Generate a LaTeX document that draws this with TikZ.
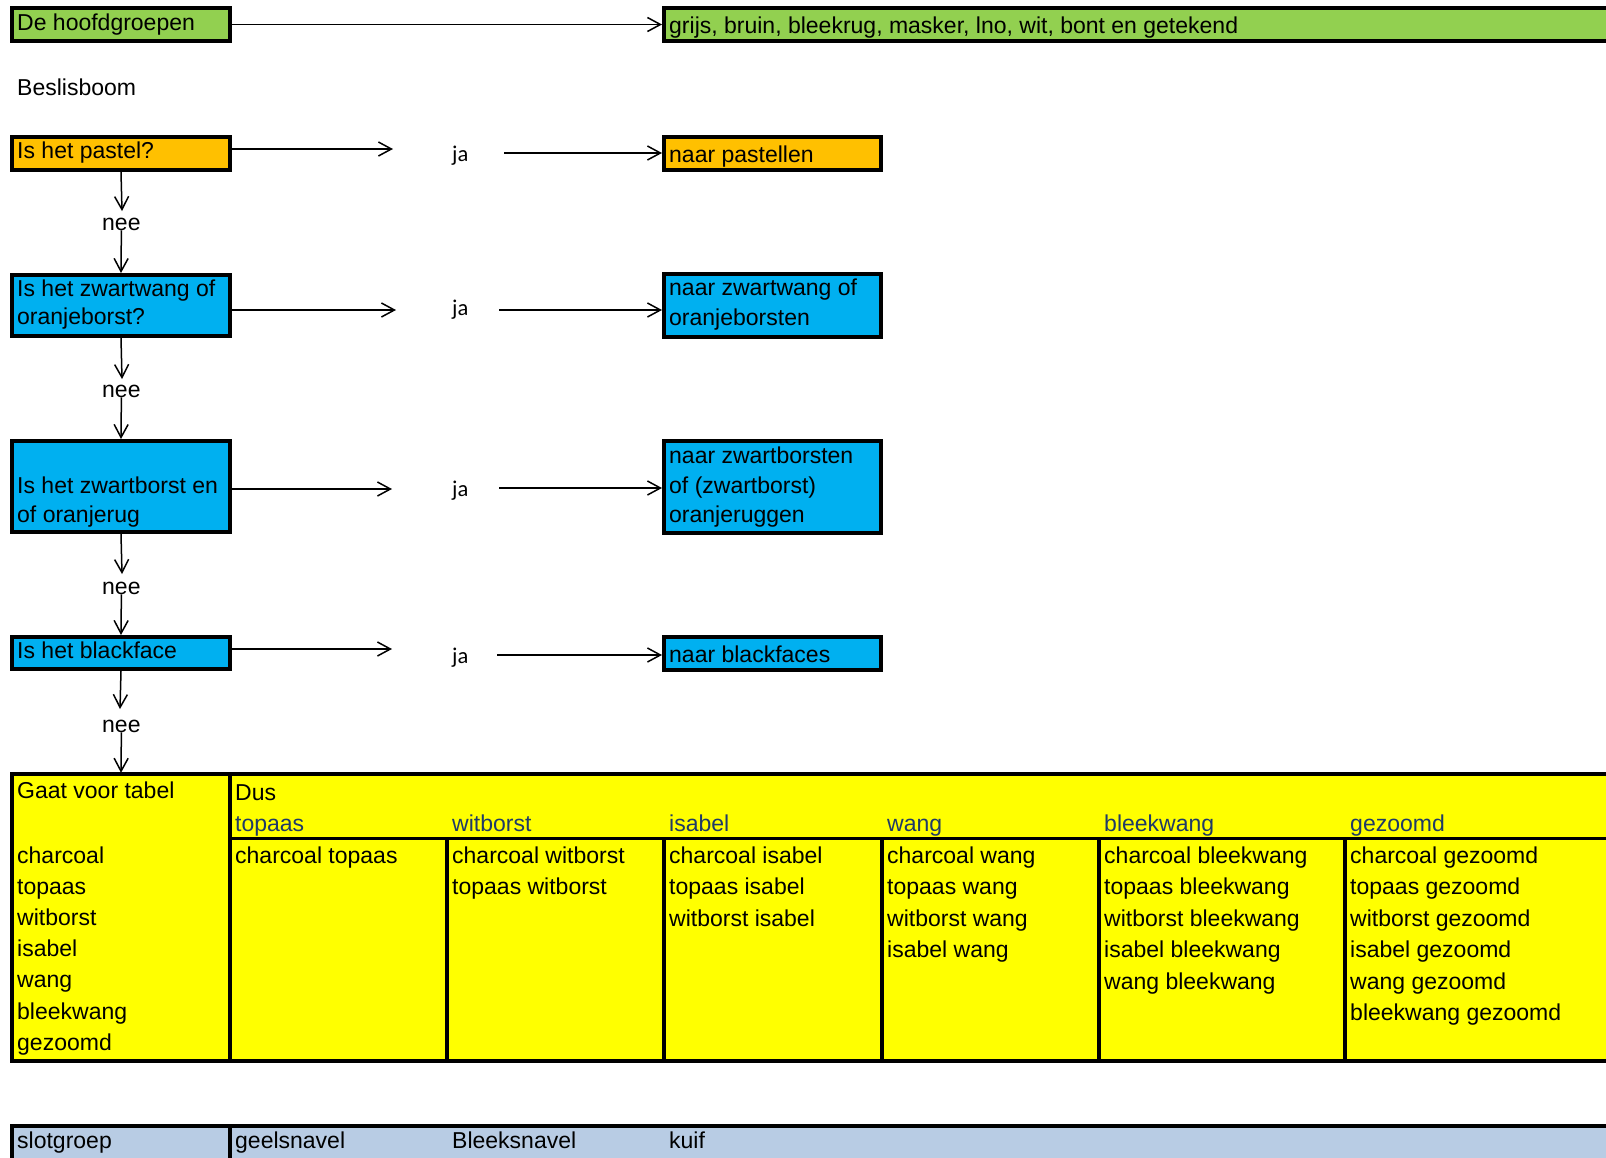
\documentclass[tikz,border=0pt]{standalone}
\usepackage{fontspec}
\setmainfont{Liberation Sans}
\newfontfamily\jafont{Carlito}
\usetikzlibrary{arrows.meta}
\definecolor{groen}{HTML}{92D050}
\definecolor{oranje}{HTML}{FFC000}
\definecolor{blauw}{HTML}{00B0F0}
\definecolor{geel}{HTML}{FFFF00}
\definecolor{lichtblauw}{HTML}{B8CCE4}
\definecolor{kopblauw}{HTML}{1F3A68}
\begin{document}
\begin{tikzpicture}[x=1pt,y=-1pt,
  box/.style={draw=black, line width=3.6pt, inner sep=0pt, minimum width=218.4pt},
  nbox/.style={box, minimum width=217.4pt},
  txt/.style={inner sep=0pt, anchor=base west, font=\fontsize{23}{28}\selectfont},
  koptxt/.style={txt, text=kopblauw},
  jalbl/.style={inner sep=0pt, anchor=base west, font=\jafont\fontsize{22.5}{27}\selectfont},
  neelbl/.style={inner sep=0pt, anchor=base west, font=\fontsize{23}{28}\selectfont},
  arr/.style={-{Straight Barb[length=13pt,width=14pt]}, line width=1.5pt, black},
  rule/.style={line width=3.6pt, black},
]
\useasboundingbox (0,0) rectangle (1606,1157);
\fill[white] (0,0) rectangle (1606,1157);
\clip (0,0) rectangle (1606,1157);

% ---------- top row ----------
\node[box, fill=groen, minimum height=33.4pt] (b0) at (121,24.5) {};
\node[txt] (t0) at (17,30) {De hoofdgroepen};
\node[box, fill=groen, minimum width=1034.4pt, minimum height=33.4pt] (g0) at (1181,24.5) {};
\node[txt] (tg0) at (669,33) {grijs, bruin, bleekrug, masker, lno, wit, bont en getekend};
\draw[arr] (b0.east) -- (g0.west);

\node[txt] (besl) at (17,95) {Beslisboom};

% ---------- row 1 ----------
\node[box, fill=oranje, minimum height=33.4pt] (b1) at (121,153.5) {};
\node[txt] (t1) at (17,158) {Is het pastel?};
\node[nbox, fill=oranje, minimum height=33.4pt] (n1) at (772.5,153.5) {};
\node[txt] (tn1) at (669,162) {naar pastellen};
\node[jalbl] (ja1) at (452,161) {ja};
\coordinate (r1s) at (393,149);
\coordinate (r1t) at (504,153);
\draw[arr] (b1.east |- r1s) -- (r1s);
\draw[arr] (r1t) -- (r1t -| n1.west);

% ---------- row 2 ----------
\node[box, fill=blauw, minimum height=61.4pt] (b2) at (121,305.5) {};
\node[txt] (t2a) at (17,296) {Is het zwartwang of};
\node[txt] (t2b) at (17,324) {oranjeborst?};
\node[nbox, fill=blauw, minimum height=63.4pt] (n2) at (772.5,305.5) {};
\node[txt] (tn2a) at (669,295) {naar zwartwang of};
\node[txt] (tn2b) at (669,325) {oranjeborsten};
\node[jalbl] (ja2) at (452,315) {ja};
\coordinate (r2s) at (396,310);
\coordinate (r2t) at (499,310);
\draw[arr] (b2.east |- r2s) -- (r2s);
\draw[arr] (r2t) -- (r2t -| n2.west);

% ---------- row 3 ----------
\node[box, fill=blauw, minimum height=91.4pt] (b3) at (121,486.5) {};
\node[txt] (t3a) at (17,493) {Is het zwartborst en};
\node[txt] (t3b) at (17,522) {of oranjerug};
\node[nbox, fill=blauw, minimum height=92.4pt] (n3) at (772.5,487) {};
\node[txt] (tn3a) at (669,463) {naar zwartborsten};
\node[txt] (tn3b) at (669,493) {of (zwartborst)};
\node[txt] (tn3c) at (669,522) {oranjeruggen};
\node[jalbl] (ja3) at (452,496) {ja};
\coordinate (r3s) at (392,489);
\coordinate (r3t) at (499,488);
\draw[arr] (b3.east |- r3s) -- (r3s);
\draw[arr] (r3t) -- (r3t -| n3.west);

% ---------- row 4 ----------
\node[box, fill=blauw, minimum height=32.4pt] (b4) at (121,653) {};
\node[txt] (t4) at (17,658) {Is het blackface};
\node[nbox, fill=blauw, minimum height=33.4pt] (n4) at (772.5,653.5) {};
\node[txt] (tn4) at (669,662) {naar blackfaces};
\node[jalbl] (ja4) at (452,663) {ja};
\coordinate (r4s) at (392,649);
\coordinate (r4t) at (497,655);
\draw[arr] (b4.east |- r4s) -- (r4s);
\draw[arr] (r4t) -- (r4t -| n4.west);

% ---------- table ----------
\fill[geel] (10,772) rectangle (1700,1063);
\node[inner sep=0pt, minimum width=218pt, minimum height=289pt] (tabel) at (121,917.5) {};
\draw[rule] (11.8,774) -- (1700,774);
\draw[rule] (11.8,1061) -- (1700,1061);
\draw[rule] (11.8,772) -- (11.8,1063);
\draw[rule] (230,772) -- (230,1063);
\draw[rule] (230,838.5) -- (1700,838.5);
\foreach \xx in {447,664,882,1099,1345} {
  \draw[rule] (\xx,838.5) -- (\xx,1063);
}

\node[txt] (gaat) at (17,798) {Gaat voor tabel};
\foreach \w [count=\i from 0] in {charcoal,topaas,witborst,isabel,wang,bleekwang,gezoomd} {
  \node[txt] (l-\i) at (17,863+31.2*\i) {\w};
}
\node[txt] (dus) at (235,800) {Dus};
\foreach \w/\xx [count=\i] in {topaas/235,witborst/452,isabel/669,wang/887,bleekwang/1104,gezoomd/1350} {
  \node[koptxt] (h-\i) at (\xx,831) {\w};
}
% cells
\node[txt] (c-1-1) at (235,863) {charcoal topaas};
\foreach \w [count=\j from 0] in {charcoal witborst,topaas witborst} {
  \node[txt] (c-2-\j) at (452,863+31.5*\j) {\w};
}
\foreach \w [count=\j from 0] in {charcoal isabel,topaas isabel,witborst isabel} {
  \node[txt] (c-3-\j) at (669,863+31.5*\j) {\w};
}
\foreach \w [count=\j from 0] in {charcoal wang,topaas wang,witborst wang,isabel wang} {
  \node[txt] (c-4-\j) at (887,863+31.5*\j) {\w};
}
\foreach \w [count=\j from 0] in {charcoal bleekwang,topaas bleekwang,witborst bleekwang,isabel bleekwang,wang bleekwang} {
  \node[txt] (c-5-\j) at (1104,863+31.5*\j) {\w};
}
\foreach \w [count=\j from 0] in {charcoal gezoomd,topaas gezoomd,witborst gezoomd,isabel gezoomd,wang gezoomd,bleekwang gezoomd} {
  \node[txt] (c-6-\j) at (1350,863+31.5*\j) {\w};
}

% ---------- slot bar ----------
\fill[lichtblauw] (10,1124) rectangle (1700,1200);
\draw[rule] (11.8,1125.8) -- (1700,1125.8);
\draw[rule] (11.8,1124) -- (11.8,1200);
\draw[rule] (230,1124) -- (230,1200);
\node[txt] (s1) at (17,1148) {slotgroep};
\node[txt] (s2) at (235,1148) {geelsnavel};
\node[txt] (s3) at (452,1148) {Bleeksnavel};
\node[txt] (s4) at (669,1148) {kuif};

% ---------- nee arrows ----------
\node[neelbl] (nee1) at (102,230) {nee};
\node[neelbl] (nee2) at (102,397) {nee};
\node[neelbl] (nee3) at (102,594) {nee};
\node[neelbl] (nee4) at (102,732) {nee};
\coordinate (d1) at (122,211);
\coordinate (d2) at (122,379);
\coordinate (d3) at (122,574);
\coordinate (d4) at (120,709);
\draw[arr] (b1.south) -- (d1);
\draw[arr] (nee1.south) -- (b2.north);
\draw[arr] (b2.south) -- (d2);
\draw[arr] (nee2.south) -- (b3.north);
\draw[arr] (b3.south) -- (d3);
\draw[arr] (nee3.south) -- (b4.north);
\draw[arr] (b4.south) -- (d4);
\draw[arr] (nee4.south) -- (tabel.north);
\end{tikzpicture}
\end{document}
